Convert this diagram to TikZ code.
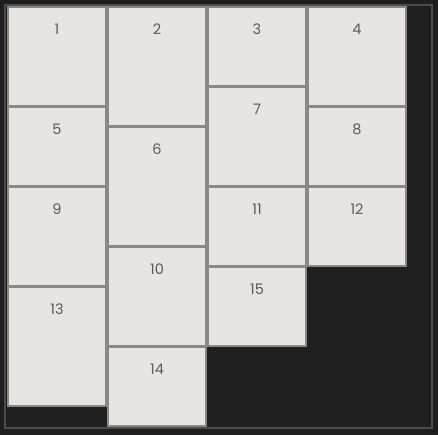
\documentclass[tikz,border=0pt]{standalone}
\usepackage{fontspec}
\setmainfont{Poppins}
\definecolor{bg}{HTML}{1F1F1F}
\definecolor{frame}{HTML}{4C4C4C}
\definecolor{tilefill}{HTML}{E7E5E3}
\definecolor{tileline}{HTML}{8A8886}
\definecolor{numcol}{HTML}{5A5A5A}
\tikzset{
  tile/.style={draw=tileline, fill=tilefill, line width=1.8pt, rectangle,
    minimum width=98.2pt, inner sep=0pt, outer sep=0pt},
  num/.style={text=numcol, font=\fontsize{14.5}{15}\selectfont, inner sep=0pt, anchor=center}
}
\begin{document}
\begin{tikzpicture}[x=1pt,y=-1pt]
\fill[bg] (0,0) rectangle (438,435);
\useasboundingbox (0,0) rectangle (438,435);
\draw[frame, line width=1.5pt] (5,5) rectangle (432,428);
\foreach \n/\c/\t/\h in {1/0/0/100, 2/1/0/120, 3/2/0/80, 4/3/0/100,
  5/0/100/80, 6/1/120/120, 7/2/80/100, 8/3/100/80,
  9/0/180/100, 10/1/240/100, 11/2/180/80, 12/3/180/80,
  13/0/280/120, 14/1/340/80, 15/2/260/80}{
  \node[tile, minimum height={\h-1.8}] (t\n) at ({7+100*\c+50},{6.5+\t+\h/2}) {};
  \node[num] (l\n) at ([yshift=-21.6pt]t\n.north) {\n};
}
\end{tikzpicture}
\end{document}
